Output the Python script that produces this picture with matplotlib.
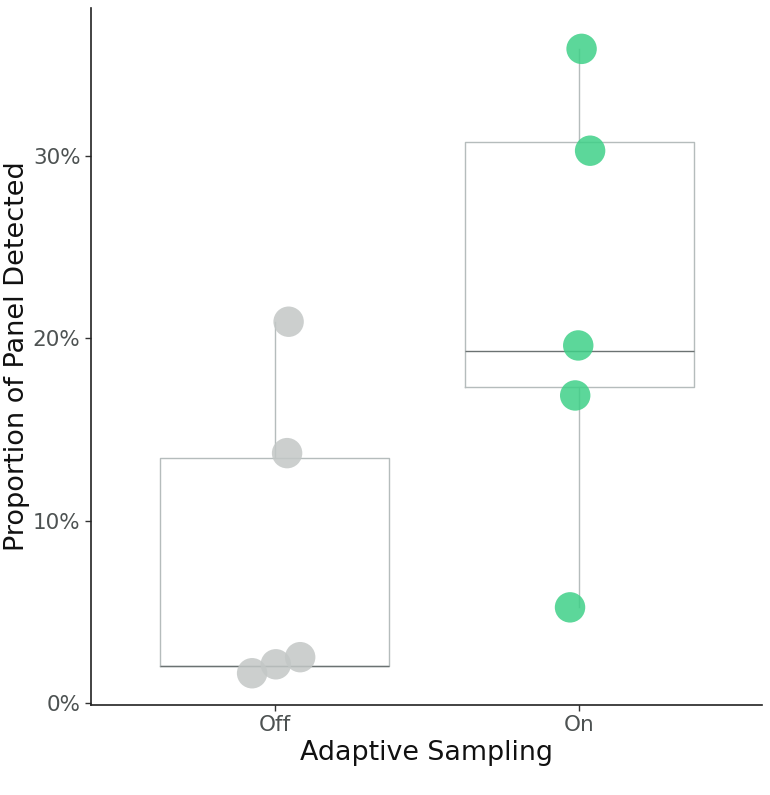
import matplotlib
matplotlib.use("Agg")
import matplotlib.pyplot as plt
from matplotlib.ticker import FuncFormatter

# categories
groups = ["Off", "On"]

# box summary (percent)
box_low = [2.03, 5.25]
box_q1 = [2.03, 17.35]
box_med = [2.03, 19.27]
box_q3 = [13.46, 30.76]
box_high = [20.9, 35.85]

# jittered points as drawn (x offset from category, y in percent)
off_dx = [0.045, 0.04, -0.075, 0.003, 0.083]
off_y = [20.9, 13.7, 1.64, 2.13, 2.52]
on_dx = [0.008, 0.036, -0.003, -0.013, -0.03]
on_y = [35.85, 30.27, 19.6, 16.86, 5.25]

fig = plt.figure(figsize=(7.7, 7.95), dpi=100)
ax = fig.add_axes([0.118, 0.1132, 0.872, 0.877])

stats = []
for i, g in enumerate(groups):
    stats.append(dict(label=g, whislo=box_low[i], q1=box_q1[i], med=box_med[i],
                      q3=box_q3[i], whishi=box_high[i]))

ax.bxp(stats, positions=[0, 1], widths=0.753, showfliers=False, showcaps=False,
       boxprops=dict(color="#b5bcbc", lw=1.0),
       whiskerprops=dict(color="#b5bcbc", lw=1.0),
       medianprops=dict(color="#6b7272", lw=1.0),
       zorder=1)

ax.scatter([0 + d for d in off_dx], off_y, s=480, color="#c3c7c6", alpha=0.85,
           edgecolors="none", zorder=3)
ax.scatter([1 + d for d in on_dx], on_y, s=480, color="#3fd088", alpha=0.85,
           edgecolors="none", zorder=3)

ax.set_xlim(-0.605, 1.602)
ax.set_ylim(-0.1, 38.1)
ax.set_yticks([0, 10, 20, 30])
ax.yaxis.set_major_formatter(FuncFormatter(lambda v, p: "%d%%" % v))
ax.set_xticks([0, 1])
ax.set_xticklabels(groups)

for s in ["top", "right"]:
    ax.spines[s].set_visible(False)
for s in ["left", "bottom"]:
    ax.spines[s].set_color("#222222")
    ax.spines[s].set_linewidth(1.2)

ax.tick_params(axis="both", labelsize=15.5, labelcolor="#4d5252", color="#333333",
               length=4, width=1)
ax.set_xlabel("Adaptive Sampling", fontsize=19.4, color="#111111", labelpad=3)
ax.set_ylabel("Proportion of Panel Detected", fontsize=19.5, color="#111111")
ax.yaxis.set_label_coords(-0.090, 0.5)

fig.savefig("out.png", dpi=100)
